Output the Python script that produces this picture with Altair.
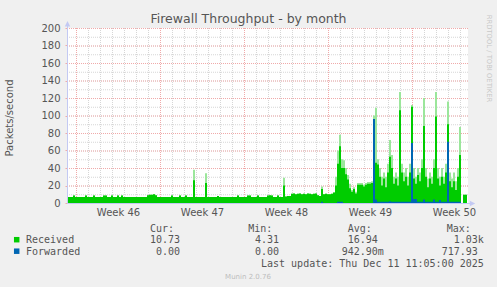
import altair as alt
import pandas as pd

# ---------------- data (4-hour samples, 200 steps across the month view) ----------------
STEP_DAYS = 1 / 6
# solid (average) received level
received = [
    7, 7, 7, 8.5, 7, 7, 7, 7, 7, 8.5,
    7, 7, 7, 8.5, 7, 7, 7, 7, 8.5, 8.5,
    7, 7, 8.5, 7, 7, 8.5, 7, 8.5, 7, 7,
    7, 7, 7, 7, 7, 7, 7, 7, 7, 7,
    9, 9.5, 9.5, 10, 9, 7, 7, 7, 7, 7,
    7, 7, 8.5, 7, 7, 7, 8.5, 7, 7, 8.5,
    7, 7, 7, 26, 7, 7, 7, 7, 7, 23,
    7, 7, 7, 7, 7, 8, 7, 7, 7, 7,
    7, 7, 7, 7, 7, 8.5, 7, 7, 7, 7,
    8.5, 8.5, 7, 7, 7, 8.5, 7, 7, 7, 7,
    8.5, 9, 8.5, 7, 7, 8.5, 7, 7, 20, 7.5,
    8, 8, 10.5, 11, 10, 10.5, 11, 10, 10.5, 10,
    11, 10.5, 10, 10.5, 11, 9, 8, 16, 10, 10.5,
    10, 10, 10.5, 12, 20, 45, 65, 40, 40, 33,
    27, 17, 13, 16, 11, 21, 21, 21, 19, 21,
    22, 22, 23, 96, 46, 44, 30, 20, 28, 18,
    35, 53, 40, 22, 28, 20, 106, 35, 25, 30,
    20, 35, 110, 28, 22, 32, 25, 40, 88, 30,
    18, 28, 22, 40, 99, 28, 20, 30, 22, 35,
    90, 25, 18, 25, 15, 30, 55, 0, 9.5, 9.5,
]
# faint peak envelope of received (lighter fringe above the solid level)
received_peak = [
    7, 7, 7, 8.5, 7, 7, 7, 7, 7, 8.5,
    7, 7, 7, 8.5, 7, 7, 7, 7, 8.5, 8.5,
    7, 7, 8.5, 7, 7, 8.5, 7, 8.5, 7, 7,
    7, 7, 7, 7, 7, 7, 7, 7, 7, 7,
    9, 9.5, 9.5, 10, 9, 7, 7, 7, 7, 7,
    7, 7, 8.5, 7, 7, 7, 8.5, 7, 7, 8.5,
    7, 7, 7, 38, 7, 7, 7, 7, 7, 34,
    7, 7, 7, 7, 7, 8, 7, 7, 7, 7,
    7, 7, 7, 7, 7, 8.5, 7, 7, 7, 7,
    8.5, 8.5, 7, 7, 7, 8.5, 7, 7, 7, 7,
    8.5, 9, 8.5, 7, 7, 8.5, 7, 7, 29, 7.5,
    8, 8, 10.5, 11, 10, 10.5, 11, 10, 10.5, 10,
    11, 10.5, 10, 10.5, 11, 9, 8, 19, 10, 10.5,
    10, 10, 10.5, 12, 30, 60, 78, 50, 49, 40,
    32, 22, 15, 18, 13, 23, 23, 23, 21, 23,
    24, 24, 25, 100, 109, 50, 40, 30, 35, 30,
    45, 72, 55, 30, 35, 30, 127, 45, 35, 40,
    30, 45, 112, 40, 30, 40, 35, 50, 120, 40,
    28, 35, 30, 50, 127, 40, 30, 40, 30, 45,
    116, 35, 28, 35, 25, 40, 87, 0, 9.5, 9.5,
]
forwarded = [
    0, 0, 0, 0, 0, 0, 0, 0, 0, 0,
    0, 0, 0, 0, 0, 0, 0, 0, 0, 0,
    0, 0, 0, 0, 0, 0, 0, 0, 0, 0,
    0, 0, 0, 0, 0, 0, 0, 0, 0, 0,
    0, 0, 0, 0, 0, 0, 0, 0, 0, 0,
    0, 0, 0, 0, 0, 0, 0, 0, 0, 0,
    0, 0, 0, 0, 0, 0, 0, 0, 0, 0,
    0, 0, 0, 0, 0, 0, 0, 0, 0, 0,
    0, 0, 0, 0, 0, 0, 0, 0, 0, 0,
    0, 0, 0, 0, 0, 0, 0, 0, 0, 0,
    0, 0, 0, 0, 0, 0, 0, 0, 0, 0,
    0, 0, 0, 0, 0, 0, 0, 0, 0, 0,
    0, 0, 0, 0, 0, 0, 0, 1.5, 0, 0,
    0, 0, 0, 0, 0, 1.5, 1.5, 1.5, 0, 0,
    0, 0, 0, 0, 0, 0, 0, 0, 0, 0,
    0, 0, 0, 96, 4, 1.5, 1.5, 1.5, 1.5, 1.5,
    1.5, 2, 1.5, 1.5, 1.5, 1.5, 1.5, 1.5, 1.5, 1.5,
    1.5, 1.5, 68.5, 4.5, 4.5, 1.5, 1.5, 1.5, 4, 1.5,
    1.5, 1.5, 1.5, 4, 1.5, 1.5, 3.5, 1.5, 1.5, 1.5,
    70, 1.5, 1.5, 1.5, 1.5, 1.5, 1.5, 0, 0, 0,
]
week_labels = ["Week 46", "Week 47", "Week 48", "Week 49", "Week 50"]
first_week_start = 0.75          # days after left edge of the plot
y_ticks = [0, 20, 40, 60, 80, 100, 120, 140, 160, 180, 200]
series_names = ["Received", "Forwarded"]
header = ["Cur:", "Min:", "Avg:", "Max:"]
cur_vals = ["10.73", "0.00"]
min_vals = ["4.31", "0.00"]
avg_vals = ["16.94", "942.90m"]
max_vals = ["1.03k", "717.93"]
last_update = "Last update: Thu Dec 11 11:05:00 2025"
title = "Firewall Throughput - by month"
y_title = "Packets/second"
version = "Munin 2.0.76"
watermark = "RRDTOOL / TOBI OETIKER"

# ---------------- layout ----------------
PAD_L, PAD_T, PAD_R, PAD_B = 67, 28, 29, 84
W, H = 401, 175
DOMAIN_DAYS = W / 12.0
GREEN, BLUE = "#00CC00", "#0066B3"
GREEN_FAINT = "#9BE69B"
TXT = "#555555"
AXIS_C = "#C3C9F3"
GRID_MINOR = "#D6D6D6"
GRID_MAJOR = "#F0AAAA"

n = len(received)
t = [i * STEP_DAYS for i in range(n + 1)]
df_r = pd.DataFrame({"t": t, "v": received + [received[-1]]})
df_p = pd.DataFrame({"t": t, "v": received_peak + [received_peak[-1]]})
df_f = pd.DataFrame({"t": t, "v": forwarded + [forwarded[-1]]})

week_starts = [first_week_start + 7 * k for k in range(len(week_labels))]
week_mids = [w + 3.5 for w in week_starts]
day_lines = [first_week_start + k for k in range(int(DOMAIN_DAYS - first_week_start) + 1)]
y_minor = [v for v in range(10, 200, 10)]
y_major = [v for v in y_ticks if v > 0]

xscale = alt.Scale(domain=[0, DOMAIN_DAYS], nice=False, zero=False)
yscale = alt.Scale(domain=[0, 200], nice=False)

label_expr = "[" + ",".join("'%s'" % s for s in week_labels) + "][round((datum.value - %s) / 7)]" % week_mids[0]

x_axis = alt.Axis(values=week_mids, labelExpr=label_expr, title=None, domain=False, ticks=False,
                  grid=False, labelPadding=4, labelFont="DejaVu Sans", labelFontSize=10,
                  labelColor=TXT, labelFlush=False, labelOverlap=False)
y_axis = alt.Axis(values=y_ticks, title=None, domain=False, ticks=True, tickSize=2,
                  tickColor=GRID_MAJOR, grid=False, labelPadding=5, labelFont="DejaVu Sans",
                  labelFontSize=10, labelColor=TXT, labelFlush=False, labelOverlap=False)


def X(field):
    return alt.X(field, scale=xscale, axis=x_axis)


def Y(field):
    return alt.Y(field, scale=yscale, axis=y_axis)


one = pd.DataFrame({"k": [0]})

vgrid_minor = alt.Chart(pd.DataFrame({"d": day_lines})).mark_rule(
    color=GRID_MINOR, strokeDash=[1, 1], strokeWidth=1, xOffset=0.5
).encode(x=X("d:Q"))
hgrid_minor = alt.Chart(pd.DataFrame({"g": y_minor})).mark_rule(
    color=GRID_MINOR, strokeDash=[1, 1], strokeWidth=1, yOffset=0.5
).encode(y=Y("g:Q"))
vgrid_major = alt.Chart(pd.DataFrame({"d": week_starts})).mark_rule(
    color=GRID_MAJOR, strokeDash=[1, 1], strokeWidth=1, xOffset=0.5
).encode(x=X("d:Q"))
hgrid_major = alt.Chart(pd.DataFrame({"g": y_major})).mark_rule(
    color=GRID_MAJOR, strokeDash=[1, 1], strokeWidth=1, yOffset=0.5
).encode(y=Y("g:Q"))

area_p = alt.Chart(df_p).mark_area(color=GREEN_FAINT, interpolate="step-after", opacity=1).encode(
    x=X("t:Q"), y=Y("v:Q"))
area_r = alt.Chart(df_r).mark_area(color=GREEN, interpolate="step-after", opacity=1).encode(
    x=X("t:Q"), y=Y("v:Q"))
area_f = alt.Chart(df_f).mark_area(color=BLUE, interpolate="step-after", opacity=1).encode(
    x=X("t:Q"), y=Y("v:Q"))

# axis lines with arrows
left_axis = alt.Chart(one).mark_rule(color=AXIS_C, strokeWidth=1).encode(
    x=alt.value(0.5), y=alt.value(H + 0.5), y2=alt.value(-2))
bottom_axis = alt.Chart(one).mark_rule(color=AXIS_C, strokeWidth=1).encode(
    x=alt.value(0), x2=alt.value(W + 2), y=alt.value(H + 0.5))
arrow_up = alt.Chart(one).mark_point(shape="M-1,1L1,1L0,-1Z", filled=True, size=30,
                                     color=AXIS_C, opacity=1).encode(
    x=alt.value(0.5), y=alt.value(-4.2))
arrow_right = alt.Chart(one).mark_point(shape="M-1,-1L1,0L-1,1Z", filled=True, size=30,
                                        color=AXIS_C, opacity=1).encode(
    x=alt.value(W + 4.5), y=alt.value(H + 0.5))


def label(txt, x, y, size=10, font="DejaVu Sans Mono", color=TXT, align="left",
          baseline="alphabetic", angle=0):
    return alt.Chart(one).mark_text(text=txt, font=font, fontSize=size, color=color,
                                    align=align, baseline=baseline, angle=angle).encode(
        x=alt.value(x - PAD_L), y=alt.value(y - PAD_T))


texts = [
    label(title, 248.5, 23, size=12.5, font="DejaVu Sans", align="center"),
    label(y_title, 10, 118, size=10, font="DejaVu Sans", align="center",
          baseline="middle", angle=270),
    label(watermark, 488.5, 58.5, size=6.8, font="DejaVu Sans", color="#C8C8C8",
          align="center", baseline="middle", angle=90),
    label(version, 248, 278.5, size=7, font="DejaVu Sans", color="#BDBDBD", align="center"),
    label(last_update, 261, 266.5),
]
header_x = [150, 248.3, 347.7, 446.7]
for h, hx in zip(header, header_x):
    texts.append(label(h, hx, 231.5))

row_y = [243, 254.5]
name_x = 26
val_x = [
    [150, 255, 347.7, 453.7],
    [156, 255, 341.7, 441.7],
]
colors = [GREEN, BLUE]
for r, name in enumerate(series_names):
    texts.append(label(name, name_x, row_y[r]))
    vals = [cur_vals[r], min_vals[r], avg_vals[r], max_vals[r]]
    for v, vx in zip(vals, val_x[r]):
        texts.append(label(v, vx, row_y[r]))
    texts.append(
        alt.Chart(one).mark_square(color=colors[r], size=30, opacity=1).encode(
            x=alt.value(16.7 - PAD_L), y=alt.value(row_y[r] - 3.3 - PAD_T))
    )

chart = alt.layer(
    vgrid_minor, hgrid_minor, vgrid_major, hgrid_major,
    area_p, area_r, area_f,
    left_axis, bottom_axis, arrow_up, arrow_right,
    *texts,
).properties(
    width=W, height=H,
    padding={"left": PAD_L, "top": PAD_T, "right": PAD_R, "bottom": PAD_B},
    autosize=alt.AutoSizeParams(type="none"),
).configure(background="#F0F0F0").configure_view(fill="white", strokeWidth=0)

chart.save("out.html", embed_options={"renderer": "svg", "actions": False})
